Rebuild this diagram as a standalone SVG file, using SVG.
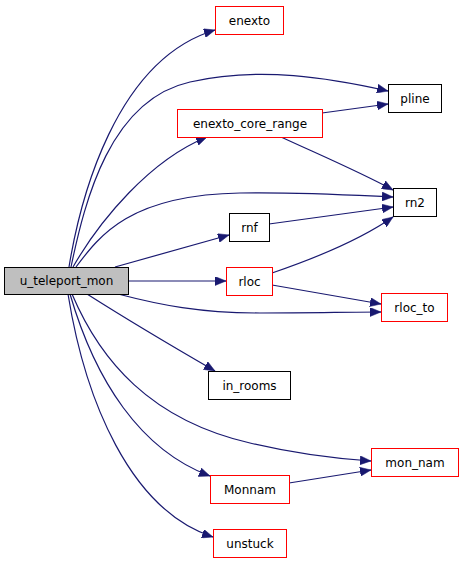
<svg xmlns="http://www.w3.org/2000/svg" width="464" height="563" viewBox="0 0 464 563">
<style>
.n rect{fill:#fff;stroke:#000;stroke-width:1}
.n.r rect{stroke:#ff0000}
.n.g rect{fill:#bfbfbf}
.n text{font-family:"DejaVu Sans",sans-serif;font-size:12px;text-anchor:middle;fill:#000}
.e path{fill:none;stroke:#191970;stroke-width:1.2;marker-end:url(#ah)}
</style>
<defs>
<marker id="ah" markerUnits="userSpaceOnUse" markerWidth="12" markerHeight="9" refX="11" refY="4.5" orient="auto">
<path d="M0,0 L11,4.5 L0,9 z" fill="#191970" stroke="#191970" stroke-width="0.5"/>
</marker>
</defs>
<rect width="464" height="563" fill="#fff"/>
<g id="edges" class="e">
<path d="M69,267 C80,200 115,60 215,30"/>
<path d="M71,267 C85,200 110,100 190,82 C260,66 330,78 388,91"/>
<path d="M73,267 C100,220 150,160 207,137"/>
<path d="M76,267 C100,235 130,195 240,193 C300,192 350,195 393,197"/>
<path d="M115,267 L229,235"/>
<path d="M128,281 L226,281"/>
<path d="M118,294 C160,305 200,313 260,313 C310,313 350,312 381,312"/>
<path d="M87,294 C120,315 170,345 215,371"/>
<path d="M72,294 C100,360 150,420 250,443 C300,455 340,459 371,461"/>
<path d="M70,294 C95,380 140,450 210,476"/>
<path d="M68,294 C85,400 130,510 213,537"/>
<path d="M322,113 L388,104"/>
<path d="M281,137 C320,155 360,172 393,190"/>
<path d="M269,224 L393,207"/>
<path d="M272,273 C310,260 360,240 393,217"/>
<path d="M272,285 L381,304"/>
<path d="M289,483 L371,470"/>
</g>
<g id="u_teleport_mon" class="n g"><rect x="4.5" y="267.5" width="124" height="27"/><text x="66.5" y="285">u_teleport_mon</text></g>
<g id="enexto" class="n r"><rect x="215.5" y="6.5" width="68" height="28"/><text x="249.5" y="24.5">enexto</text></g>
<g id="pline" class="n"><rect x="388.5" y="84.5" width="53" height="28"/><text x="415" y="102.5">pline</text></g>
<g id="enexto_core_range" class="n r"><rect x="177.5" y="109.5" width="145" height="28"/><text x="250" y="127.5">enexto_core_range</text></g>
<g id="rn2" class="n"><rect x="393.5" y="188.5" width="43" height="28"/><text x="415" y="206.5">rn2</text></g>
<g id="rnf" class="n"><rect x="229.5" y="213.5" width="40" height="28"/><text x="249.5" y="231.5">rnf</text></g>
<g id="rloc" class="n r"><rect x="226.5" y="267.5" width="46" height="28"/><text x="249.5" y="285.5">rloc</text></g>
<g id="rloc_to" class="n r"><rect x="381.5" y="293.5" width="66" height="28"/><text x="414.5" y="311.5">rloc_to</text></g>
<g id="in_rooms" class="n"><rect x="208.5" y="371.5" width="82" height="28"/><text x="249.5" y="389.5">in_rooms</text></g>
<g id="mon_nam" class="n r"><rect x="371.5" y="448.5" width="87" height="28"/><text x="415" y="466.5">mon_nam</text></g>
<g id="Monnam" class="n r"><rect x="210.5" y="475.5" width="79" height="28"/><text x="250" y="493.5">Monnam</text></g>
<g id="unstuck" class="n r"><rect x="213.5" y="529.5" width="73" height="28"/><text x="250" y="547.5">unstuck</text></g>
</svg>
